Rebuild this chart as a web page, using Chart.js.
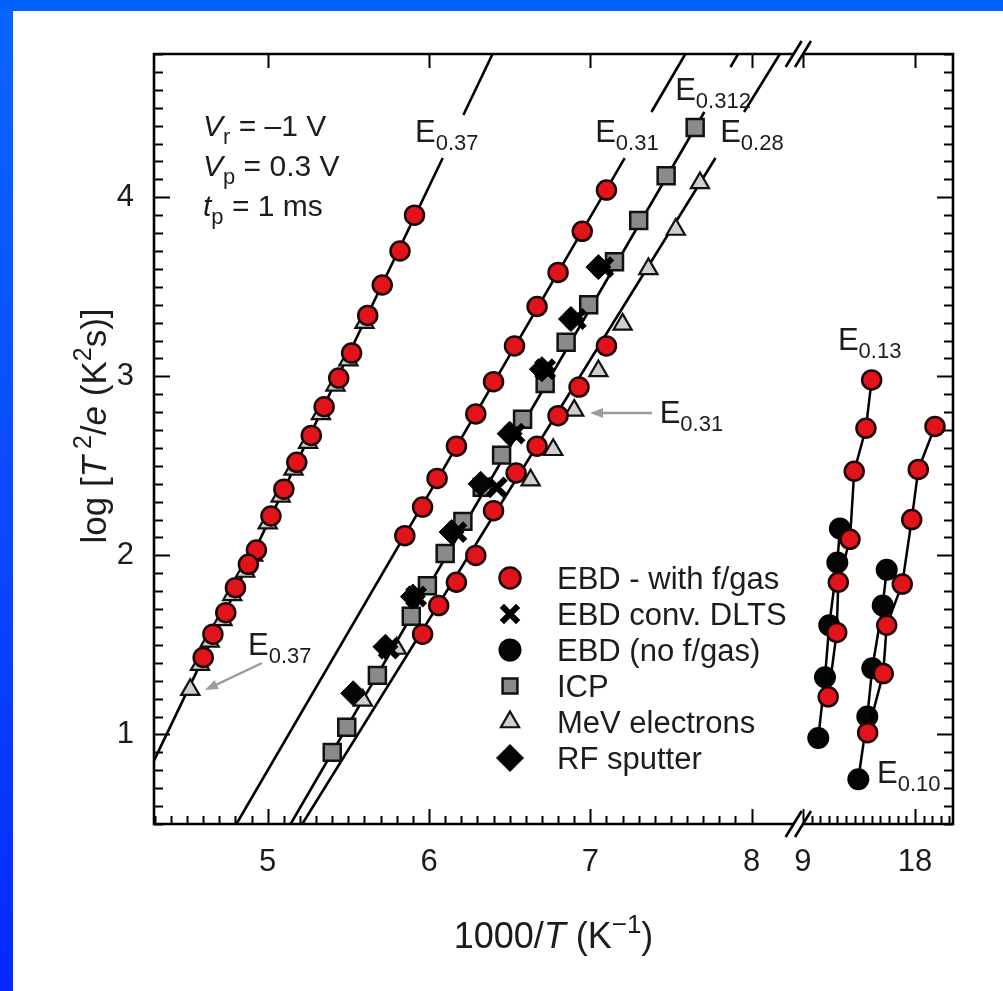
<!DOCTYPE html>
<html>
<head>
<meta charset="utf-8">
<script src="https://cdn.jsdelivr.net/npm/chart.js@4.4.1/dist/chart.umd.min.js"></script>
<style>
  html, body { margin: 0; padding: 0; background: #ffffff; }
  #wrap { position: relative; width: 1003px; height: 991px; }
  canvas { display: block; }
</style>
</head>
<body>
<div id="wrap"><canvas id="c" width="1003" height="991"></canvas></div>
<script>
// ---------------- data: x = 1000/T (K^-1), y = log[T^2/e (K^2 s)] ----------------
// EBD with forming gas
const gas37X = [5.91, 5.82, 5.71, 5.62, 5.52, 5.44, 5.35, 5.27, 5.18, 5.10, 5.02, 4.93, 4.88, 4.80, 4.74, 4.66, 4.60];
const gas37Y = [3.90, 3.70, 3.51, 3.34, 3.13, 2.99, 2.83, 2.67, 2.52, 2.37, 2.22, 2.03, 1.95, 1.82, 1.68, 1.56, 1.43];
const gas31X = [7.10, 6.95, 6.80, 6.67, 6.53, 6.40, 6.29, 6.17, 6.05, 5.96, 5.85];
const gas31Y = [4.04, 3.81, 3.58, 3.39, 3.17, 2.97, 2.79, 2.61, 2.43, 2.27, 2.11];
const gas28X = [7.10, 6.93, 6.80, 6.67, 6.54, 6.40, 6.29, 6.17, 6.06, 5.96];
const gas28Y = [3.17, 2.94, 2.78, 2.61, 2.46, 2.25, 2.00, 1.85, 1.72, 1.56];
const gas13X = [14.52, 14.06, 13.12, 12.78, 11.84, 11.71, 11.03];
const gas13Y = [2.98, 2.71, 2.47, 2.09, 1.85, 1.57, 1.21];
const gas10X = [19.61, 18.27, 17.74, 16.98, 15.73, 15.45, 14.20];
const gas10Y = [2.72, 2.48, 2.20, 1.84, 1.61, 1.34, 1.01];
// EBD without forming gas
const noGas13X = [11.97, 11.76, 11.11, 10.77, 10.23];
const noGas13Y = [2.15, 1.96, 1.61, 1.32, 0.98];
const noGas10X = [15.73, 15.41, 14.57, 14.17, 13.45];
const noGas10Y = [1.92, 1.72, 1.37, 1.10, 0.75];
// EBD conventional DLTS
const dltsX = [5.75, 5.92, 6.17, 6.42, 6.53, 6.72, 6.91, 7.08];
const dltsY = [1.48, 1.77, 2.13, 2.38, 2.68, 3.04, 3.32, 3.61];
// ICP
const icpX = [7.65, 7.47, 7.30, 7.15, 6.99, 6.85, 6.72, 6.58, 6.45, 6.33, 6.21, 6.10, 5.99, 5.89, 5.68, 5.49, 5.40];
const icpY = [4.39, 4.12, 3.87, 3.64, 3.40, 3.19, 2.96, 2.76, 2.56, 2.38, 2.19, 2.01, 1.83, 1.66, 1.33, 1.04, 0.90];
// MeV electrons
const mev37X = [5.60, 5.50, 5.42, 5.33, 5.25, 5.16, 5.08, 5.00, 4.91, 4.86, 4.78, 4.72, 4.64, 4.58, 4.52];
const mev37Y = [3.30, 3.09, 2.95, 2.79, 2.63, 2.48, 2.33, 2.18, 2.00, 1.91, 1.78, 1.64, 1.52, 1.39, 1.25];
const mevX = [5.59, 5.80, 6.63, 6.77, 6.90, 7.05, 7.20, 7.36, 7.53, 7.68];
const mevY = [1.19, 1.48, 2.42, 2.59, 2.81, 3.03, 3.29, 3.60, 3.82, 4.08];
// RF sputter
const rfX = [5.53, 5.73, 5.90, 6.14, 6.32, 6.50, 6.70, 6.88, 7.05];
const rfY = [1.23, 1.49, 1.77, 2.13, 2.40, 2.68, 3.04, 3.32, 3.61];

// Arrhenius fit lines (null = gap left for the level label)
const fit37X = [4.295, 6.085, null, 6.213, 6.394];
const fit37Y = [0.854, 4.219, null, 4.459, 4.800];
const fit31X = [4.806, 7.213, null, 7.379, 7.589];
const fit31Y = [0.500, 4.219, null, 4.476, 4.800];
const fit312X = [5.142, 7.707, null, 7.869, 7.916];
const fit312Y = [0.500, 4.476, null, 4.727, 4.800];
const fit28X = [5.214, 7.776, null, 7.953, 8.175];
const fit28Y = [0.500, 4.219, null, 4.476, 4.800];

// legend names
const seriesNames = ['EBD - with f/gas', 'EBD conv. DLTS', 'EBD (no f/gas)', 'ICP', 'MeV electrons', 'RF sputter'];

// axis ticks
const xTickValues = [5, 6, 7, 8];       // left (expanded) part of the broken axis
const xRightTickValues = [9, 18];       // right (compressed) part
const yTickValues = [1, 2, 3, 4];

// ---------------- axis geometry ----------------
const X_MIN = 4.295, X_MAX = 9.2485;    // left part
const XR_MIN = -43.17, XR_MAX = 21.06;  // right part, same pixel span
const X_LEFT_END = 8.18;                // last value before the break
const XR_START = 8.52;                  // first value after the break
const XR_MINOR = 9 / 13;                // minor tick step on the right part
const Y_MIN = 0.5, Y_MAX = 4.8;

const FONT = '"Liberation Sans", Arimo, Arial, sans-serif';
const TXT = '#1c1c1c';
const RED = '#e3131c';

const pts = (xs, ys) => xs.map((x, i) => ({ x: x, y: ys[i] }));

// map a right-part value onto the left-part coordinate (same pixel)
const rightToLeft = v => X_MIN + (v - XR_MIN) / (XR_MAX - XR_MIN) * (X_MAX - X_MIN);

const xTickLabels = [];

const styles = {
  gas:   { pointStyle: 'circle', pointRadius: 9.5, pointBackgroundColor: RED, pointBorderColor: '#1a0505', pointBorderWidth: 2.5 },
  dlts:  { pointStyle: 'crossRot', pointRadius: 12.5, pointBackgroundColor: '#000', pointBorderColor: '#000', pointBorderWidth: 6 },
  noGas: { pointStyle: 'circle', pointRadius: 10, pointBackgroundColor: '#050505', pointBorderColor: '#000', pointBorderWidth: 2 },
  icp:   { pointStyle: 'rect', pointRadius: 12, pointBackgroundColor: '#8a8a8a', pointBorderColor: '#111', pointBorderWidth: 2.5 },
  mev:   { pointStyle: 'triangle', pointRadius: 10.5, pointBackgroundColor: '#cfcfcf', pointBorderColor: '#111', pointBorderWidth: 2.2 },
  rf:    { pointStyle: 'rectRot', pointRadius: 12.5, pointBackgroundColor: '#050505', pointBorderColor: '#000', pointBorderWidth: 1 }
};

function markerSet(label, xs, ys, style, order, axis, joined) {
  return Object.assign({
    label: label, data: pts(xs, ys), xAxisID: axis || 'x', order: order,
    showLine: !!joined, borderColor: '#000', borderWidth: 2.5, pointHoverRadius: 0
  }, styles[style]);
}
function fitLine(xs, ys) {
  return {
    label: 'fit', data: pts(xs, ys), showLine: true, spanGaps: false, xAxisID: 'x',
    borderColor: '#000', borderWidth: 2.6, pointRadius: 0, order: 20
  };
}

const datasets = [
  fitLine(fit37X, fit37Y), fitLine(fit31X, fit31Y), fitLine(fit312X, fit312Y), fitLine(fit28X, fit28Y),
  markerSet(seriesNames[4], mev37X, mev37Y, 'mev', 10),
  markerSet(seriesNames[4], mevX, mevY, 'mev', 9),
  markerSet(seriesNames[3], icpX, icpY, 'icp', 8),
  markerSet(seriesNames[5], rfX, rfY, 'rf', 7),
  markerSet(seriesNames[1], dltsX, dltsY, 'dlts', 6),
  markerSet(seriesNames[2], noGas13X, noGas13Y, 'noGas', 5, 'xR', true),
  markerSet(seriesNames[2], noGas10X, noGas10Y, 'noGas', 5, 'xR', true),
  markerSet(seriesNames[0], gas37X, gas37Y, 'gas', 1),
  markerSet(seriesNames[0], gas31X, gas31Y, 'gas', 1),
  markerSet(seriesNames[0], gas28X, gas28Y, 'gas', 1),
  markerSet(seriesNames[0], gas13X, gas13Y, 'gas', 1, 'xR', true),
  markerSet(seriesNames[0], gas10X, gas10Y, 'gas', 1, 'xR', true)
];

// ---------------- text helpers ----------------
// parts: [text, kind] with kind '', 'i' (italic), 'sub', 'sup'
function fontFor(k, size) {
  const s = (k === 'sub' || k === 'sup') ? Math.round(size * 0.72) : size;
  return (k === 'i' ? 'italic ' : '') + s + 'px ' + FONT;
}
function richWidth(ctx, parts, size) {
  let w = 0;
  for (const [t, k] of parts) { ctx.font = fontFor(k, size); w += ctx.measureText(t).width; }
  return w;
}
function drawRich(ctx, x, y, parts, size, align) {
  let cx = align === 'center' ? x - richWidth(ctx, parts, size) / 2 : x;
  ctx.textAlign = 'left';
  ctx.textBaseline = 'alphabetic';
  for (const [t, k] of parts) {
    ctx.font = fontFor(k, size);
    const dy = k === 'sub' ? size * 0.26 : (k === 'sup' ? -size * 0.42 : 0);
    ctx.fillText(t, cx, y + dy);
    cx += ctx.measureText(t).width;
  }
}
function arrow(ctx, x1, y1, x2, y2) {
  const a = Math.atan2(y2 - y1, x2 - x1), L = 13, W = 5;
  ctx.save();
  ctx.strokeStyle = '#9c9c9c'; ctx.fillStyle = '#9c9c9c'; ctx.lineWidth = 2.4;
  ctx.beginPath(); ctx.moveTo(x1, y1);
  ctx.lineTo(x2 - Math.cos(a) * L * 0.8, y2 - Math.sin(a) * L * 0.8); ctx.stroke();
  ctx.beginPath();
  ctx.moveTo(x2, y2);
  ctx.lineTo(x2 - L * Math.cos(a) + W * Math.sin(a), y2 - L * Math.sin(a) - W * Math.cos(a));
  ctx.lineTo(x2 - L * Math.cos(a) - W * Math.sin(a), y2 - L * Math.sin(a) + W * Math.cos(a));
  ctx.closePath(); ctx.fill();
  ctx.restore();
}

// level labels, anchored in data coordinates (axis = which x scale)
const levelLabels = [
  { axis: 'x',  x: 5.913, y: 4.309, sub: '0.37' },
  { axis: 'x',  x: 7.030, y: 4.309, sub: '0.31' },
  { axis: 'x',  x: 7.526, y: 4.543, sub: '0.312' },
  { axis: 'x',  x: 7.805, y: 4.309, sub: '0.28' },
  { axis: 'xR', x: 11.81, y: 3.147, sub: '0.13' },
  { axis: 'xR', x: 14.95, y: 0.729, sub: '0.10' },
  { axis: 'x',  x: 7.430, y: 2.739, sub: '0.31' },
  { axis: 'x',  x: 4.878, y: 1.444, sub: '0.37' }
];
const labelArrows = [
  { from: [7.383, 2.795], to: [6.998, 2.795] },
  { from: [4.965, 1.399], to: [4.611, 1.248] }
];
const conditions = [
  [['V', 'i'], ['r', 'sub'], [' = \u20131 V', '']],
  [['V', 'i'], ['p', 'sub'], [' = 0.3 V', '']],
  [['t', 'i'], ['p', 'sub'], [' = 1 ms', '']]
];
const conditionsAnchor = { x: 4.599, y: [4.342, 4.119, 3.896] };

// ---------------- plugins ----------------
const backdrop = {
  id: 'backdrop',
  beforeDraw(chart) {
    const ctx = chart.ctx, W = chart.width, H = chart.height;
    ctx.save();
    const g = ctx.createLinearGradient(0, 0, 0, H);
    g.addColorStop(0, '#0a66ff'); g.addColorStop(0.55, '#0b47ff'); g.addColorStop(1, '#0528ff');
    ctx.fillStyle = g; ctx.fillRect(0, 0, W, H);
    ctx.fillStyle = '#0062fc'; ctx.fillRect(0, 0, W, 11);
    ctx.fillStyle = '#ffffff'; ctx.fillRect(13, 11, W - 13, H - 11);
    ctx.restore();
  }
};

const frame = {
  id: 'frame',
  afterDatasetsDraw(chart) {
    const ctx = chart.ctx, a = chart.chartArea;
    const sx = chart.scales.x, sxr = chart.scales.xR, sy = chart.scales.y;
    const bL = sx.getPixelForValue(X_LEFT_END) + 13, bR = sxr.getPixelForValue(XR_START) + 6;
    ctx.save();
    ctx.strokeStyle = '#000'; ctx.lineWidth = 2.6; ctx.lineCap = 'butt';
    ctx.beginPath();
    ctx.moveTo(bL, a.top); ctx.lineTo(a.left, a.top); ctx.lineTo(a.left, a.bottom); ctx.lineTo(bL, a.bottom);
    ctx.moveTo(bR, a.top); ctx.lineTo(a.right, a.top); ctx.lineTo(a.right, a.bottom); ctx.lineTo(bR, a.bottom);
    ctx.stroke();
    ctx.lineWidth = 2;
    ctx.beginPath();
    // y ticks, both sides
    for (let k = Math.round(Y_MIN * 10); k <= Math.round(Y_MAX * 10); k++) {
      const p = Math.round(sy.getPixelForValue(k / 10)) + 0.5;
      const len = (k % 10 === 0) ? 16 : 9;
      ctx.moveTo(a.left, p); ctx.lineTo(a.left + len, p);
      ctx.moveTo(a.right, p); ctx.lineTo(a.right - len, p);
    }
    // x ticks, left part
    for (let k = Math.ceil(X_MIN * 10); k <= Math.floor(X_LEFT_END * 10) - 1; k++) {
      const p = Math.round(sx.getPixelForValue(k / 10)) + 0.5;
      const major = k % 10 === 0;
      ctx.moveTo(p, a.bottom); ctx.lineTo(p, a.bottom - (major ? 15 : 8));
      if (major) { ctx.moveTo(p, a.top); ctx.lineTo(p, a.top + 14); }
    }
    // x ticks, right part
    for (let k = 0; 9 + k * XR_MINOR <= XR_MAX; k++) {
      const v = 9 + k * XR_MINOR, p = Math.round(sxr.getPixelForValue(v)) + 0.5;
      const major = xRightTickValues.some(t => Math.abs(t - v) < 1e-6);
      ctx.moveTo(p, a.bottom); ctx.lineTo(p, a.bottom - (major ? 15 : 8));
      if (major) { ctx.moveTo(p, a.top); ctx.lineTo(p, a.top + 14); }
    }
    ctx.stroke();
    // break marks
    ctx.lineWidth = 2.6;
    ctx.beginPath();
    for (const cy of [a.top, a.bottom]) {
      for (const cx of [bL, bR]) { ctx.moveTo(cx - 8, cy + 13); ctx.lineTo(cx + 8, cy - 13); }
    }
    ctx.stroke();
    ctx.restore();
  },
  afterDraw(chart) {
    const ctx = chart.ctx, a = chart.chartArea;
    const sc = { x: chart.scales.x, xR: chart.scales.xR }, sy = chart.scales.y;
    ctx.save();
    ctx.fillStyle = TXT;
    // measurement conditions
    conditions.forEach((parts, i) => {
      drawRich(ctx, sc.x.getPixelForValue(conditionsAnchor.x), sy.getPixelForValue(conditionsAnchor.y[i]), parts, 30);
    });
    // level labels
    for (const L of levelLabels) {
      drawRich(ctx, sc[L.axis].getPixelForValue(L.x), sy.getPixelForValue(L.y), [['E', ''], [L.sub, 'sub']], 31);
    }
    for (const A of labelArrows) {
      arrow(ctx, sc.x.getPixelForValue(A.from[0]), sy.getPixelForValue(A.from[1]),
                 sc.x.getPixelForValue(A.to[0]), sy.getPixelForValue(A.to[1]));
    }
    // legend
    const styleKeys = ['gas', 'dlts', 'noGas', 'icp', 'mev', 'rf'];
    const legendSize = { gas: 10.5, dlts: 11.5, noGas: 10.5, icp: 10.5, mev: 10.5, rf: 13.5 };
    const lx = 510, ly0 = 578, dy = 36;
    seriesNames.forEach((name, i) => {
      const st = styles[styleKeys[i]], y = ly0 + i * dy;
      ctx.save();
      ctx.fillStyle = st.pointBackgroundColor; ctx.strokeStyle = st.pointBorderColor;
      ctx.lineWidth = st.pointBorderWidth;
      Chart.helpers.drawPoint(ctx, { pointStyle: st.pointStyle, radius: legendSize[styleKeys[i]], rotation: 0, borderWidth: st.pointBorderWidth }, lx, y);
      ctx.restore();
      ctx.fillStyle = TXT;
      drawRich(ctx, lx + 47, y + 11, [[name, '']], 31);
    });
    // axis titles
    drawRich(ctx, (a.left + a.right) / 2, 948,
      [['1000/', ''], ['T', 'i'], [' (K', ''], ['\u22121', 'sup'], [')', '']], 36, 'center');
    ctx.save();
    ctx.translate(106, 426);
    ctx.rotate(-Math.PI / 2);
    drawRich(ctx, 0, 0,
      [['log [', ''], ['T', 'i'], [' 2', 'sup'], ['/', ''], ['e', 'i'], [' (K', ''], ['2', 'sup'], ['s)]', '']], 35, 'center');
    ctx.restore();
    ctx.restore();
  }
};

new Chart(document.getElementById('c'), {
  type: 'scatter',
  data: { datasets: datasets },
  plugins: [backdrop, frame],
  options: {
    responsive: false,
    animation: false,
    events: [],
    layout: { padding: { top: 54, right: 50, left: 0, bottom: 0 } },
    plugins: { legend: { display: false }, tooltip: { enabled: false } },
    scales: {
      x: {
        type: 'linear', min: X_MIN, max: X_MAX,
        grid: { display: false }, border: { display: false },
        afterBuildTicks(scale) {
          xTickLabels.length = 0;
          const vals = [];
          xTickValues.forEach(v => { vals.push(v); xTickLabels.push(String(v)); });
          xRightTickValues.forEach(v => { vals.push(rightToLeft(v)); xTickLabels.push(String(v)); });
          scale.ticks = vals.map(v => ({ value: v }));
        },
        afterFit(scale) { scale.height = 167; },
        ticks: {
          autoSkip: false, maxRotation: 0, padding: 12, color: TXT,
          font: { family: FONT, size: 31 },
          callback: (v, i) => xTickLabels[i]
        }
      },
      xR: { type: 'linear', min: XR_MIN, max: XR_MAX, display: false },
      y: {
        type: 'linear', min: Y_MIN, max: Y_MAX,
        grid: { display: false }, border: { display: false },
        afterBuildTicks(scale) { scale.ticks = yTickValues.map(v => ({ value: v })); },
        afterFit(scale) { scale.width = 154; },
        ticks: { padding: 12, color: TXT, font: { family: FONT, size: 31 } }
      }
    }
  }
});
</script>
</body>
</html>
